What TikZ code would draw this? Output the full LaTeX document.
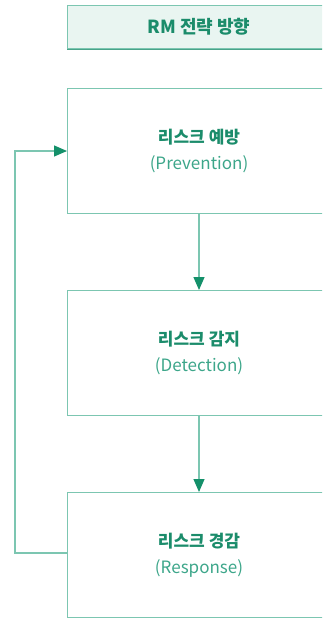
\documentclass[tikz,border=0pt]{standalone}
\usepackage{fontspec}
\setmainfont{Noto Sans CJK KR}
\usetikzlibrary{arrows.meta}
\definecolor{boxline}{HTML}{7CC6B1}
\definecolor{titlefill}{HTML}{E9F5F1}
\definecolor{darkgreen}{HTML}{1B8C6B}
\definecolor{engtext}{HTML}{3DA68A}
\definecolor{headgreen}{HTML}{14906A}
\tikzset{
  stagebox/.style={draw=boxline, line width=1.2pt, minimum width=264pt, minimum height=125pt, inner sep=0pt, align=center, anchor=north west},
  titlebox/.style={draw=boxline, fill=titlefill, line width=1.2pt, minimum width=264pt, minimum height=43pt, inner sep=0pt, anchor=north west},
  flow/.style={draw=boxline, line width=1.2pt, -{Triangle[width=11pt,length=13pt,fill=headgreen,color=headgreen]}},
  kor/.style={font=\fontsize{17}{20}\selectfont\bfseries, text=darkgreen},
  titlek/.style={font=\fontsize{18}{20}\selectfont\bfseries, text=darkgreen},
  eng/.style={font=\fontsize{17}{20}\selectfont, text=engtext}
}
\begin{document}
\begin{tikzpicture}[x=1pt,y=-1pt]
\useasboundingbox (0,0) rectangle (322,619);
\begin{scope}
\clip (0,0) rectangle (322,619);
\node[titlebox] (title) at (67,5) {};
\draw[darkgreen!80, line width=1.2pt] (title.south west) -- (title.south east);
\node[titlek] (titletext) at (199,27) {RM 전략 방향};
\node[stagebox] (prev) at (67,88) {};
\node[kor] (prevk) at (199,137) {리스크 예방};
\node[eng] (preve) at (199,164) {(Prevention)};
\node[stagebox] (det) at (67,290) {};
\node[kor] (detk) at (199,339) {리스크 감지};
\node[eng] (dete) at (199,366) {(Detection)};
\node[stagebox] (resp) at (67,492) {};
\node[kor] (respk) at (199,541) {리스크 경감};
\node[eng] (respe) at (199,568) {(Response)};
\end{scope}
\coordinate (p1) at (199,213);
\coordinate (p2) at (199,290);
\coordinate (p3) at (199,415);
\coordinate (p4) at (199,492);
\draw[flow] (p1) -- (p2);
\draw[flow] (p3) -- (p4);
\coordinate (r) at (67,553);
\coordinate (l) at (67,151);
\draw[flow] (r) -- (15,553) -- (15,151) -- (l);
\end{tikzpicture}
\end{document}
